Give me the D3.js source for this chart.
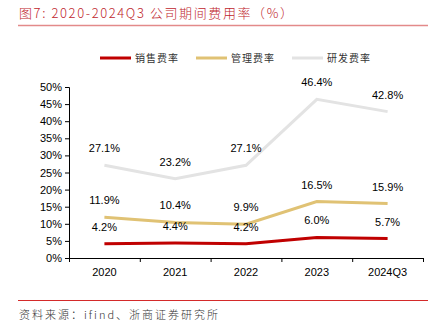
<!DOCTYPE html>
<html>
<head>
<meta charset="utf-8">
<script src="https://cdn.jsdelivr.net/npm/d3@7"></script>
<style>
body { margin: 0; background: #fff; }
svg text { font-family: "Liberation Sans", Arial, sans-serif; }
.cjk { font-family: "Noto Sans CJK SC", sans-serif; }
</style>
</head>
<body>
<svg id="chart" width="437" height="330"></svg>
<script>
var categories = ["2020", "2021", "2022", "2023", "2024Q3"];
var sellRate = [4.2, 4.4, 4.2, 6.0, 5.7];
var adminRate = [11.9, 10.4, 9.9, 16.5, 15.9];
var rdRate = [27.1, 23.2, 27.1, 46.4, 42.8];
var yTicks = [0, 5, 10, 15, 20, 25, 30, 35, 40, 45, 50];

var series = [
    { name: "销售费率", values: sellRate, color: "#c00000" },
    { name: "管理费率", values: adminRate, color: "#e0c274" },
    { name: "研发费率", values: rdRate, color: "#e3e3e3" }
];

var svg = d3.select("#chart"),
    MARGINS = { top: 87, right: 14, bottom: 72, left: 69 },
    WIDTH = 437, HEIGHT = 330;

// title + header rule
svg.append("text").attr("class", "cjk")
    .attr("x", 19).attr("y", 18)
    .attr("fill", "#c0262d").attr("font-size", 13).attr("font-weight", 300)
    .attr("letter-spacing", 1.6)
    .text("图7:  2020-2024Q3 公司期间费用率（%）");
svg.append("line")
    .attr("x1", 18).attr("x2", 428).attr("y1", 25.5).attr("y2", 25.5)
    .attr("stroke", "#e38a8a").attr("stroke-width", 1.5);

var xScale = d3.scaleBand().domain(categories)
    .range([MARGINS.left, WIDTH - MARGINS.right]);
var yScale = d3.scaleLinear().domain([0, 50])
    .range([HEIGHT - MARGINS.bottom, MARGINS.top]);

var xAxis = d3.axisBottom(xScale).tickSize(0).tickPadding(10);
var gx = svg.append("g")
    .attr("transform", "translate(0," + yScale(0) + ")")
    .call(xAxis);
gx.select(".domain").attr("stroke", "#000");
gx.selectAll("text").attr("font-size", 11).attr("fill", "#000");
// tick marks on band edges
var edges = categories.map(function (c) { return xScale(c); }).concat([xScale.range()[1]]);
gx.selectAll(".edge").data(edges).enter().append("line")
    .attr("x1", function (d) { return d + 0.5; }).attr("x2", function (d) { return d + 0.5; })
    .attr("y1", 0).attr("y2", 4).attr("stroke", "#000");

var yAxis = d3.axisLeft(yScale).tickValues(yTicks).tickSize(4).tickPadding(3)
    .tickFormat(function (d) { return d + "%"; });
var gy = svg.append("g")
    .attr("transform", "translate(" + MARGINS.left + ",0)")
    .call(yAxis);
gy.select(".domain").attr("stroke", "#000");
gy.selectAll("text").attr("font-size", 11).attr("fill", "#000");

var line = d3.line()
    .x(function (d, i) { return xScale(categories[i]) + xScale.bandwidth() / 2; })
    .y(function (d) { return yScale(d); });

series.slice().reverse().forEach(function (s) {
    svg.append("path").datum(s.values)
        .attr("d", line).attr("fill", "none")
        .attr("stroke", s.color).attr("stroke-width", 3);
});

series.forEach(function (s) {
    svg.append("g").selectAll("text").data(s.values).enter().append("text")
        .attr("x", function (d, i) { return xScale(categories[i]) + xScale.bandwidth() / 2; })
        .attr("y", function (d) { return yScale(d) - 13; })
        .attr("text-anchor", "middle").attr("font-size", 11).attr("fill", "#000")
        .text(function (d) { return d.toFixed(1) + "%"; });
});

// legend
var legendX = [100, 196, 292];
var lg = svg.append("g").selectAll("g").data(series).enter().append("g")
    .attr("transform", function (d, i) { return "translate(" + legendX[i] + ",58)"; });
lg.append("line").attr("x1", 0).attr("x2", 31).attr("y1", 0).attr("y2", 0)
    .attr("stroke", function (d) { return d.color; }).attr("stroke-width", 3);
lg.append("text").attr("class", "cjk").attr("x", 35).attr("y", 4)
    .attr("font-size", 10).attr("fill", "#333").attr("letter-spacing", 1)
    .text(function (d) { return d.name; });

// footer
svg.append("line")
    .attr("x1", 18).attr("x2", 428).attr("y1", 300.5).attr("y2", 300.5)
    .attr("stroke", "#d42a2a").attr("stroke-width", 1);
svg.append("text").attr("class", "cjk")
    .attr("x", 19).attr("y", 319)
    .attr("fill", "#333").attr("font-size", 11).attr("font-weight", 300)
    .attr("letter-spacing", 2)
    .text("资料来源：ifind、浙商证券研究所");
</script>
</body>
</html>
